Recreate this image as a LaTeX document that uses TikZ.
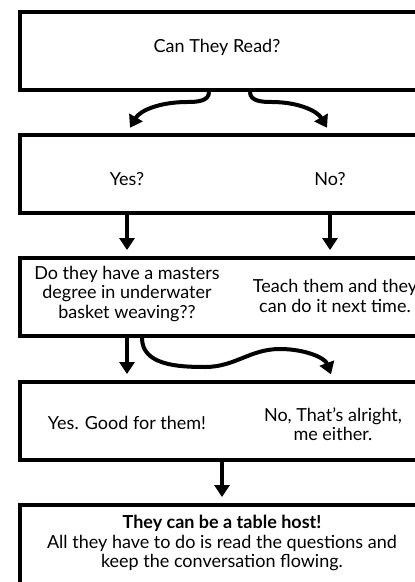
\documentclass[tikz,border=0pt]{standalone}
\usepackage{fontspec}
\setmainfont{Lato}
\usetikzlibrary{arrows.meta,positioning,calc}
\tikzstyle{box}=[draw,line width=4pt,anchor=north west,minimum width=450pt,minimum height=78pt,inner sep=0pt]
\tikzstyle{txt}=[align=center,font=\fontsize{18}{19.5}\selectfont,inner sep=0pt]
\tikzstyle{flow}=[line width=4pt,-{Triangle[width=15pt,length=12pt]},shorten >=6pt]

\begin{document}
\begin{tikzpicture}[x=1pt,y=-1pt]
      \clip (0,0) rectangle (415,582);
      \node[box] at (18,10) (read) {};
      \node[box] at (18,133) (yesno) {};
      \node[box] at (18,256) (masters) {};
      \node[box] at (18,380) (good) {};
      \node[box,minimum height=110pt] at (18,503) (host) {};
      % texts
      \node[txt] at (217,47) (q) {Can They Read?};
      \node[txt] at (127,179) (yes) {Yes?};
      \node[txt] at (330,179) (no) {No?};
      \node[txt] at (127,294) (deg) {Do they have a masters\\degree in underwater\\basket weaving??};
      \node[txt] at (335,296) (teach) {Teach them and they\\can do it next time.};
      \node[txt] at (127,423) (goodfor) {Yes. Good for them!};
      \node[txt] at (333,424) (alright) {No, That’s alright,\\me either.};
      \node[txt] at (222,543) (tablehost) {\textbf{They can be a table host!}\\All they have to do is read the questions and\\keep the conversation flowing.};
      % connectors
      \draw[flow] ([xshift=-36pt]read.south) to[out=-90,in=0] ++(-22,10) to[out=180,in=60] (yesno.north -| yes);
      \draw[flow] ([xshift=5pt]read.south) to[out=-90,in=180] ++(22,10) to[out=0,in=120] (yesno.north -| no);
      \draw[flow] (yesno.south -| yes) -- (masters.north -| yes);
      \draw[flow] (yesno.south -| no) -- (masters.north -| no);
      \draw[flow] (masters.south -| yes) -- (good.north -| yes);
      \draw[flow] ([xshift=15pt]masters.south -| yes) to[out=-90,in=180] ++(63,29) to[out=0,in=180] ++(75,-18) to[out=0,in=110] (good.north -| alright);
      \draw[flow] (good.south -| tablehost) -- (host.north -| tablehost);
\end{tikzpicture}
\end{document}
